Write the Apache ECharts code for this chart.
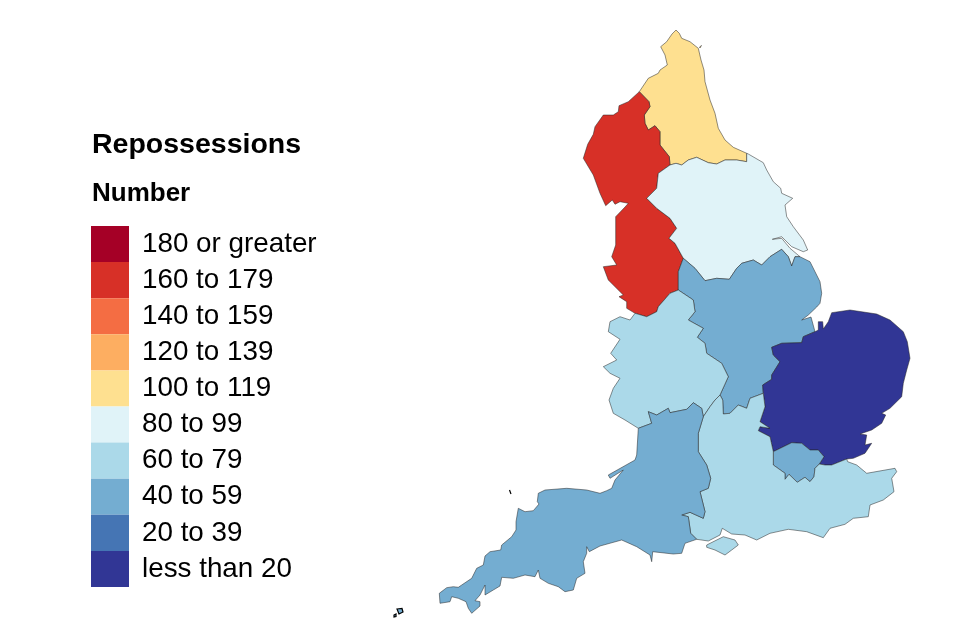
<!DOCTYPE html>
<html>
<head>
<meta charset="utf-8">
<style>html,body{margin:0;padding:0;background:#fff}#c{width:960px;height:640px}</style>
<script src="https://cdn.jsdelivr.net/npm/echarts@6/dist/echarts.min.js"></script>
</head>
<body>
<div id="c"></div>
<script>
// ---- Data (values are estimated within their legend band)
const regionNames = ['North East','North West','Yorkshire and The Humber','East Midlands','West Midlands','East of England','London','South East','South West','Lundy','Isles of Scilly'];
const regionValues = [110,170,90,50,70,10,50,70,50,50,50];
const legendLabels = ['180 or greater','160 to 179','140 to 159','120 to 139','100 to 119','80 to 99','60 to 79','40 to 59','20 to 39','less than 20'];
const legendMins = [180,160,140,120,100,80,60,40,20,0];
const legendMaxs = [100000,179.99,159.99,139.99,119.99,99.99,79.99,59.99,39.99,19.99];
const legendColors = ['#A50026','#D73027','#F46D43','#FDAE61','#FEE090','#E0F3F8','#ABD9E9','#74ADD1','#4575B4','#313695'];

// ---- Traced map geometry (region boundaries, shared between neighbours)
const neCoast = [[639.3,91.7],[648.3,78.3],[658.3,73.3],[660,70],[667.3,65],[665,55],[660.7,46.7],[666.7,41.7],[672,34],[676,30],[679.3,33.3],[681.7,38.3],[690,41.7],[698.3,48.3],[701,60],[704,70],[705,81.7],[710,100],[715,113.3],[718.3,128.3],[725,140],[733.3,147.3],[746.7,153.3]];
const neYorks = [[746.7,153.3],[746.7,161.7],[736.7,160],[725,160],[716.7,164],[708.3,162.7],[696.7,157.3],[688.3,160],[681.7,165],[676,163.3],[670,165]];
const neCumbria = [[670,165],[669.3,156.7],[660,145],[660,131.7],[655,125.7],[648.3,130],[645,123.3],[644.3,115],[650,106.7],[649,101.7],[639.3,91.7]];
const nwCoast = [[639.3,91.7],[628.3,101.7],[619,105.7],[618.3,111.7],[613.3,115],[603.3,115],[595,126.7],[593.3,134.3],[587.7,144.3],[583.3,158.3],[593.3,175],[600,193.3],[605.7,205.7],[612.3,200],[615,204.3],[620,201.7],[628.3,203.3],[625,207],[615.7,216.7],[615.7,245],[611.7,256.7],[616.7,265],[603.3,266.7],[608.3,280],[623.3,295],[619,296.7],[626.7,301.7],[626.7,308.3],[635,313.3],[646.7,316.7]];
const nwWm = [[646.7,316.7],[656.7,311.7],[658.3,306.7],[670,293.3],[678.3,290]];
const nwEm = [[678.3,290],[678.3,271.7],[683.3,258.3]];
const yorksNw = [[683.3,258.3],[675,243.3],[669,238.3],[676.7,228.3],[670,218.3],[656.7,208.3],[646.7,198.3],[656.7,188.3],[658.3,173.3],[670,165]];
const yorksCoast = [[746.7,153.3],[748.3,154],[763.3,162.7],[766.7,170],[773.3,181.7],[780.7,188.3],[781.7,193.3],[792.7,198.3],[785,205],[786.7,216.7],[793.3,226.7],[803.3,240],[807.7,250],[803.3,251.7],[791.7,246.7],[781.7,236.7],[772.3,239.3],[781.7,238.3],[790,248.3],[800,256.7]];
const emYorks = [[800,256.7],[795,256.7],[791.7,266],[788.3,256.7],[781.7,249.3],[770,256.7],[761.7,265],[753.3,260],[741.7,263.3],[736.7,268.3],[729.3,279.3],[716.7,278.3],[705,280.7],[695,268.3],[683.3,258.3]];
const emCoast = [[800,256.7],[810,261.7],[820,281.7],[821.7,293.3],[820,303.3],[816.7,307],[808.3,315],[801.7,320],[811,317],[815,331.7]];
const emEast = [[815,331.7],[803.3,336.7],[801.7,342.7],[781.7,343.3],[771.7,347.3],[773.3,355],[780,361.7],[771.7,375],[771.7,379.3],[762.7,385],[763.3,393.3]];
const emSe = [[763.3,393.3],[750,398.3],[746.7,408.3],[738.3,405],[730,413.3],[723.3,414],[722.7,400],[720,395]];
const emWm = [[720,395],[728.3,376.7],[721.7,363.3],[706.7,353.3],[705,343.3],[697.3,337.3],[703.3,328.3],[688.3,320],[695,311.7],[693.3,300],[678.3,290]];
const wmSe = [[720,395],[715,400],[710,406.7],[703.3,416.7]];
const wmSw = [[703.3,416.7],[701.7,408.3],[693.3,402.7],[686.7,409.3],[670,412.7],[668.3,408.3],[656.7,415],[648.3,411.7],[651.7,423.3],[638.3,428.3]];
const wmCoast = [[638.3,428.3],[625,420],[613.3,413.3],[609,400],[613.3,388.3],[620,378.3],[610,373.3],[603.3,366.7],[616.7,360],[610.7,353.3],[620,339.3],[608.3,331.7],[610,321.7],[620,316.7],[630,320],[635,313.3]];
const wmTop = [[635,313.3],[646.7,316.7]];
const swCoast = [[638.3,428.3],[636.7,455],[635,460],[608.3,475],[610,478.3],[623.3,470],[615,480],[611.7,488.3],[606.7,490.7],[600,493.3],[586.7,490],[566.7,488.3],[545,490],[538.3,493.3],[537.3,501.7],[539,504],[533.3,510.7],[525,511.7],[518.3,508.3],[516,521.7],[516,530],[511.7,536.7],[501.7,545],[500.7,550],[490,551.7],[485,556],[483.3,565],[476.7,568.3],[471.7,578.3],[461.7,585],[458.3,587.3],[453.3,586.7],[446.7,587.7],[439.3,593.3],[440,603.3],[450,601.7],[451.7,596.7],[458.3,598.3],[466,601.7],[468.3,608.3],[471.7,613.3],[480,606],[480,601.7],[475,600.7],[480,595],[485,585],[485,595],[493.3,590],[500,586],[501.7,577.3],[513.3,578.3],[525,575],[535,576.7],[538.3,570],[540,578.3],[548.3,583.3],[558.3,586.7],[565,591.7],[573.3,590],[576.7,578.3],[585,573.3],[583.3,561.7],[586.7,553.3],[586.7,546.7],[589.3,551.7],[600,546],[621.7,540],[636.7,546.7],[650,555],[651.7,561.7],[652.7,551.7],[673.3,554],[681.7,553.3],[685,543.3],[696.7,539.3]];
const seSw = [[696.7,539.3],[690.7,533.3],[688.3,516.7],[681.7,515],[690,512.3],[703.3,518.3],[705,511.7],[700,491.7],[708.3,488.3],[710.7,478.3],[706.7,465],[698.3,451.7],[698.3,433.3],[703.3,416.7]];
const seEast = [[763.3,393.3],[765,406.7],[760,421.7],[770,428.3],[760,426.7],[758.3,430.7],[770,436.7],[773.3,451.7]];
const seLondon = [[773.3,451.7],[773.3,465],[785,473.3],[785,479.3],[789,474.3],[797.3,482.3],[805,477.3],[810,481.7],[814,476.7],[815,468.3],[819.3,464]];
const eastLondon = [[819.3,464],[824,456.7],[818.3,450],[810,450],[801.7,443.3],[791.7,442.7],[773.3,451.7]];
const seCoast = [[819.3,464],[825,465],[831.7,465],[846.7,459],[847.7,461.7],[856.7,465],[866.7,473.3],[895,468.3],[896.7,471.7],[891.7,478.3],[894,491.7],[883.3,500],[870,505],[868.3,516.7],[853.3,518.3],[845,524.3],[830,528.3],[823.3,537.7],[806.7,531.7],[788.3,529.3],[770,533.3],[756.7,540],[745,535],[731.7,534],[722.3,528.3],[720,535],[708.3,541],[696.7,539.3]];
const eastCoast = [[815,331.7],[818.3,330],[818.3,321.7],[822.7,321.7],[823.3,329],[828.3,321.7],[831.7,312.7],[850,310],[876.7,314],[890,320],[903.3,331.7],[907.3,341.7],[910,358.3],[906.7,370],[903.3,383.3],[901.7,396.7],[890,408.3],[881.7,413.3],[885.7,415],[881.7,423.3],[871.7,430],[860,434],[866.7,435],[865,445],[871.7,443.3],[865,453.3],[853.3,458.3],[846.7,459],[831.7,465],[825,465],[819.3,464]];
const isleOfWight = [[706.7,545],[723.3,536.7],[735,540],[738.3,545],[731.7,550],[725,555],[715,550],[706.7,547.3],[706.7,545]];
const lundy = [[509.5,490],[510.5,490],[511,494],[510,494],[509.5,490]];
const scillyA = [[397,609],[402,608.5],[403,612],[399,614],[397,609]];
const scillyB = [[394,615],[396,614],[396,616.5],[394,617],[394,615]];
const holyIsland = [[699.5,47],[701.5,45.5],[702,46.5],[700,48],[699.5,47]];

const rev = a => a.slice().reverse();
const ring = (...arcs) => {
  const out = [];
  arcs.forEach(a => a.forEach(p => out.push([p[0], -p[1]])));
  return out;
};

const regionRings = {
  'North East': [ring(neCoast, neYorks, neCumbria), ring(holyIsland)],
  'North West': [ring(nwCoast, nwWm, nwEm, yorksNw, neCumbria)],
  'Yorkshire and The Humber': [ring(yorksCoast, emYorks, yorksNw, rev(neYorks))],
  'East Midlands': [ring(emCoast, emEast, emSe, emWm, nwEm, rev(emYorks))],
  'West Midlands': [ring(rev(emWm), wmSe, wmSw, wmCoast, wmTop, nwWm)],
  'East of England': [ring(eastCoast, eastLondon, rev(seEast), rev(emEast))],
  'London': [ring(seLondon, eastLondon)],
  'South East': [ring(rev(wmSe), rev(emSe), seEast, seLondon, seCoast, seSw), ring(isleOfWight)],
  'South West': [ring(wmSw, swCoast, seSw)],
  'Lundy': [ring(lundy)],
  'Isles of Scilly': [ring(scillyA), ring(scillyB)]
};

const geo = {
  type: 'FeatureCollection',
  features: regionNames.map(n => ({
    type: 'Feature',
    properties: { name: n },
    geometry: { type: 'MultiPolygon', coordinates: regionRings[n].map(r => [r]) }
  }))
};
echarts.registerMap('england', geo);

let minX = Infinity, maxX = -Infinity, minY = Infinity, maxY = -Infinity;
Object.values(regionRings).forEach(rs => rs.forEach(r => r.forEach(p => {
  minX = Math.min(minX, p[0]); maxX = Math.max(maxX, p[0]);
  minY = Math.min(minY, -p[1]); maxY = Math.max(maxY, -p[1]);
})));

const specks = ['Lundy', 'Isles of Scilly'];
const chart = echarts.init(document.getElementById('c'), null, { renderer: 'canvas' });
const font = '"Liberation Sans", Arial, sans-serif';
chart.setOption({
  backgroundColor: '#fff',
  animation: false,
  title: [
    { text: 'Repossessions', left: 92, top: 131, padding: 0, textStyle: { fontFamily: font, fontSize: 28.5, fontWeight: 'bold', color: '#000' } },
    { text: 'Number', left: 92, top: 181, padding: 0, textStyle: { fontFamily: font, fontSize: 26, fontWeight: 'bold', color: '#000' } }
  ],
  visualMap: {
    type: 'piecewise',
    left: 91,
    top: 226,
    padding: 0,
    orient: 'vertical',
    itemWidth: 38,
    itemHeight: 36.1,
    itemGap: 0,
    itemSymbol: 'rect',
    textGap: 13,
    selectedMode: false,
    hoverLink: false,
    align: 'left',
    textStyle: { fontFamily: font, fontSize: 27.8, color: '#000' },
    pieces: legendLabels.map((l, i) => ({ label: l, min: legendMins[i], max: legendMaxs[i], color: legendColors[i] })),
    seriesIndex: 0
  },
  series: [{
    type: 'map',
    map: 'england',
    roam: false,
    silent: true,
    aspectScale: 1,
    boundingCoords: [[minX, -minY], [maxX, -maxY]],
    left: minX,
    top: minY,
    width: maxX - minX,
    height: maxY - minY,
    label: { show: false },
    emphasis: { disabled: true },
    select: { disabled: true },
    selectedMode: false,
    itemStyle: { borderColor: '#222', borderWidth: 0.5 },
    data: regionNames.map((n, i) => specks.includes(n)
      ? { name: n, value: regionValues[i], itemStyle: { borderColor: '#000', borderWidth: 1.2 } }
      : { name: n, value: regionValues[i] })
  }]
});
</script>
</body>
</html>
